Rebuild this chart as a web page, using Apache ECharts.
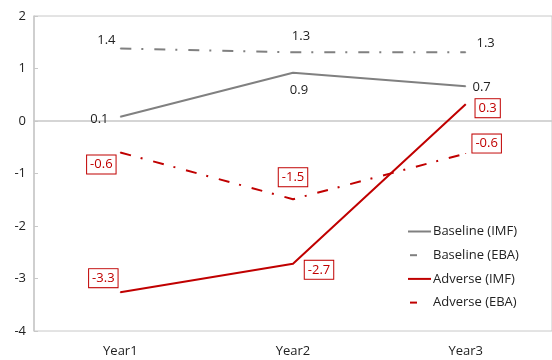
<!DOCTYPE html>
<html>
<head>
<meta charset="utf-8">
<script src="https://cdn.jsdelivr.net/npm/echarts@6/dist/echarts.min.js"></script>
<style>
  html, body { margin: 0; padding: 0; background: #fff; }
  #main { width: 552px; height: 360px; }
</style>
</head>
<body>
<div id="main"></div>
<script>
// data
const years = ['Year1', 'Year2', 'Year3'];
const baselineIMF = [0.08, 0.92, 0.66];
const baselineEBA = [1.38, 1.31, 1.31];
const adverseIMF = [-3.26, -2.72, 0.32];
const adverseEBA = [-0.60, -1.49, -0.62];

// label offsets from each point (px)
const offBaseIMF = [[-21, 2], [6, 18], [16, 1]];
const offBaseEBA = [[-14, -8], [8, -16], [20, -9]];
const offAdvIMF = [[-17, -14], [26, 6], [22, 4]];
const offAdvEBA = [[-19, 12], [0, -22], [21, -10]];

const GREY = '#808080';
const RED = '#c00000';
const FONT = '"Open Sans", "Noto Sans", sans-serif';
const DASHDOT = [11, 10, 2, 11];

function pts(values, offsets) {
  return values.map((v, i) => ({
    value: v,
    label: { offset: offsets[i] }
  }));
}

function makeSeries(name, values, offsets, color, dashed, boxed) {
  return {
    name: name,
    type: 'line',
    data: pts(values, offsets),
    symbol: 'circle',
    symbolSize: 1,
    color: color,
    lineStyle: { color: color, width: 2, type: dashed ? DASHDOT : 'solid' },
    label: {
      show: true,
      position: 'inside',
      fontFamily: FONT,
      fontSize: 13,
      color: boxed ? RED : '#222',
      backgroundColor: boxed ? '#fff' : 'transparent',
      borderColor: boxed ? RED : 'transparent',
      borderWidth: boxed ? 1 : 0,
      padding: boxed ? [3, 3, 2, 3] : 0,
      formatter: p => p.value.toFixed(1)
    },
    emphasis: { disabled: true },
    animation: false
  };
}

// legend entries, dashed ones get a short dash like the original
const legendShort = { type: [7, 30], dashOffset: 35, width: 2 };
const legendData = [
  { name: 'Baseline (IMF)' },
  { name: 'Baseline (EBA)', lineStyle: legendShort },
  { name: 'Adverse (IMF)' },
  { name: 'Adverse (EBA)', lineStyle: legendShort }
];

const chart = echarts.init(document.getElementById('main'), null, { renderer: 'canvas' });
chart.setOption({
  backgroundColor: '#fff',
  textStyle: { fontFamily: FONT },
  grid: {
    left: 34, right: -2, top: 16, bottom: 29,
    show: true, borderColor: '#c8c8c8', borderWidth: 1
  },
  legend: {
    orient: 'vertical',
    left: 407, top: 225, padding: 0,
    itemWidth: 23, itemHeight: 14, itemGap: 10.7,
    itemStyle: { opacity: 0 },
    textStyle: { fontSize: 13, color: '#222', fontFamily: FONT, padding: [0, 0, 0, -3] },
    data: legendData
  },
  xAxis: {
    type: 'category',
    data: years,
    boundaryGap: true,
    axisLine: { lineStyle: { color: '#c8c8c8', width: 1.5 } },
    axisTick: { inside: true, length: 5, lineStyle: { color: '#c8c8c8' } },
    axisLabel: { color: '#222', fontSize: 13, margin: 14, fontFamily: FONT }
  },
  yAxis: {
    type: 'value',
    min: -4, max: 2, interval: 1,
    splitLine: { show: false },
    axisLine: { show: true, lineStyle: { color: '#c8c8c8', width: 1.5 } },
    axisTick: { show: true, inside: true, length: 4, lineStyle: { color: '#c8c8c8' } },
    axisLabel: { color: '#222', fontSize: 13, margin: 8, fontFamily: FONT }
  },
  series: [
    makeSeries('Baseline (IMF)', baselineIMF, offBaseIMF, GREY, false, false),
    makeSeries('Baseline (EBA)', baselineEBA, offBaseEBA, GREY, true, false),
    makeSeries('Adverse (IMF)', adverseIMF, offAdvIMF, RED, false, true),
    makeSeries('Adverse (EBA)', adverseEBA, offAdvEBA, RED, true, true)
  ]
});
</script>
</body>
</html>
